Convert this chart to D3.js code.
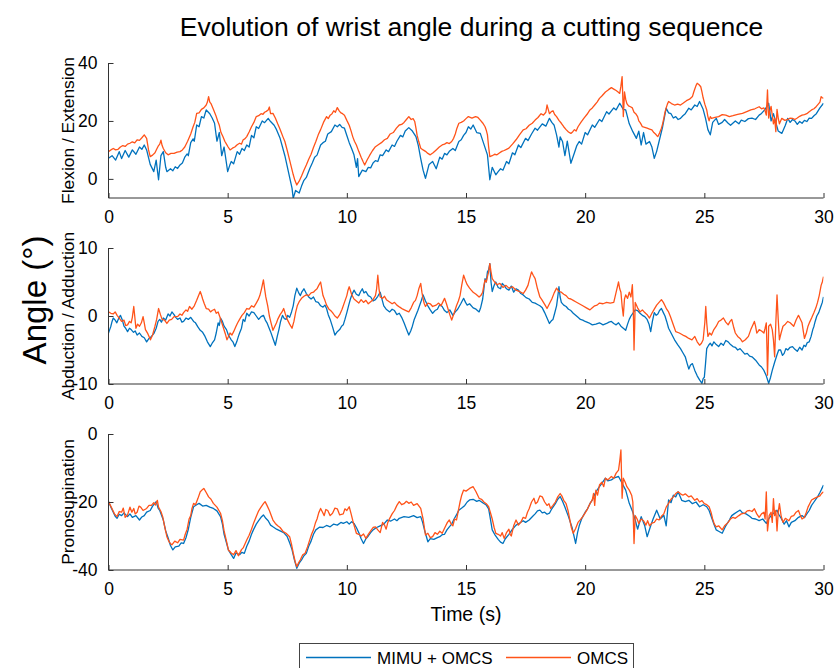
<!DOCTYPE html>
<html><head><meta charset="utf-8">
<script src="https://cdn.jsdelivr.net/npm/d3@7/dist/d3.min.js"></script>
<style>
html,body{margin:0;padding:0;background:#fff;}
svg text{font-family:"Liberation Sans",Arial,Helvetica,sans-serif;fill:#000;}
</style></head>
<body><svg id="chart" width="836" height="668"></svg>
<script>
const titleText = "Evolution of wrist angle during a cutting sequence";
const seriesNames = ["MIMU + OMCS", "OMCS"];
const panelLabels = ["Flexion / Extension", "Abduction / Adduction", "Pronosupination"];
const timeTicks = [0, 5, 10, 15, 20, 25, 30];
const flexTicks = [0, 20, 40];
const abdTicks = [-10, 0, 10];
const pronoTicks = [-40, -20, 0];

const flexMimu = [[0,7.1],[0.15,8.0],[0.3,6.5],[0.45,9.4],[0.55,7.0],[0.7,9.8],[0.85,7.5],[1.0,10.0],[1.15,8.5],[1.3,11.0],[1.4,10.2],[1.5,11.7],[1.6,10.0],[1.75,5.0],[1.9,2.5],[2.0,6.5],[2.1,-0.3],[2.2,8.0],[2.3,9.4],[2.4,4.0],[2.45,2.5],[2.6,3.5],[2.7,2.8],[2.8,4.2],[2.9,3.6],[3.0,4.8],[3.1,5.5],[3.2,7.5],[3.3,8.6],[3.35,8.0],[3.45,12.5],[3.55,13.8],[3.6,13.0],[3.7,18.6],[3.8,18.0],[3.9,21.5],[4.0,21.0],[4.1,23.8],[4.25,22.5],[4.35,21.0],[4.45,19.2],[4.55,13.0],[4.65,16.0],[4.75,8.0],[4.85,11.0],[5.0,2.5],[5.1,5.0],[5.15,6.0],[5.25,5.2],[5.4,9.4],[5.5,8.5],[5.6,10.5],[5.7,9.8],[5.8,11.7],[5.9,11.0],[6.0,15.0],[6.1,14.2],[6.2,18.0],[6.3,17.4],[6.45,20.0],[6.55,19.4],[6.7,20.9],[6.8,19.8],[6.95,18.5],[7.05,17.0],[7.2,14.0],[7.4,8.0],[7.6,0.5],[7.7,-3.2],[7.75,-6.7],[7.85,-4.0],[8.0,-4.9],[8.1,-2.5],[8.2,-0.5],[8.3,0.5],[8.45,3.7],[8.55,5.5],[8.65,7.5],[8.75,8.2],[8.9,11.7],[9.0,12.5],[9.1,13.0],[9.2,15.5],[9.35,16.3],[9.5,18.6],[9.6,18.0],[9.7,18.8],[9.8,17.8],[9.9,17.5],[10.0,15.0],[10.1,12.5],[10.2,10.5],[10.3,8.3],[10.4,4.0],[10.45,7.0],[10.5,0.8],[10.65,3.0],[10.8,2.5],[10.9,4.0],[11.0,3.8],[11.1,5.5],[11.2,6.3],[11.3,6.0],[11.4,8.3],[11.5,8.0],[11.65,10.0],[11.75,9.4],[11.9,11.7],[12.0,11.2],[12.1,13.0],[12.25,15.0],[12.35,14.5],[12.45,16.5],[12.6,17.7],[12.75,16.5],[12.9,14.6],[13.0,11.5],[13.1,7.0],[13.2,3.0],[13.3,0.2],[13.45,5.0],[13.6,6.0],[13.75,3.5],[13.9,7.5],[14.0,6.8],[14.1,8.8],[14.2,8.3],[14.3,9.5],[14.45,10.5],[14.55,9.8],[14.7,12.9],[14.8,13.5],[14.9,15.0],[15.0,16.0],[15.1,18.0],[15.2,17.2],[15.3,18.6],[15.45,16.0],[15.6,15.7],[15.75,12.0],[15.9,8.3],[16.0,-0.3],[16.1,4.0],[16.25,1.4],[16.35,2.5],[16.45,3.5],[16.55,3.0],[16.7,6.0],[16.8,5.2],[16.95,9.0],[17.05,8.3],[17.2,11.7],[17.3,10.8],[17.5,14.0],[17.6,13.2],[17.75,15.5],[17.9,17.5],[18.0,16.8],[18.2,19.0],[18.35,18.2],[18.5,20.9],[18.6,19.5],[18.7,18.5],[18.8,15.2],[18.9,11.0],[18.95,14.5],[19.05,12.9],[19.15,8.0],[19.25,13.0],[19.4,5.4],[19.55,9.0],[19.65,11.5],[19.75,12.9],[19.85,12.0],[20.0,16.0],[20.1,15.2],[20.3,18.6],[20.4,17.8],[20.6,20.5],[20.7,19.8],[20.9,23.2],[21.0,22.4],[21.2,24.5],[21.3,23.8],[21.45,26.1],[21.6,24.0],[21.7,23.8],[21.85,19.0],[22.0,16.3],[22.15,14.0],[22.25,16.5],[22.35,11.7],[22.45,16.0],[22.55,12.0],[22.7,12.9],[22.8,11.0],[22.9,7.1],[23.0,9.5],[23.1,12.9],[23.25,18.0],[23.4,24.4],[23.5,22.8],[23.6,22.5],[23.7,21.0],[23.8,21.5],[23.9,20.5],[24.0,20.9],[24.1,21.8],[24.2,22.5],[24.35,24.4],[24.45,23.8],[24.6,25.5],[24.7,25.0],[24.8,26.7],[24.95,24.0],[25.05,20.9],[25.15,17.0],[25.25,15.2],[25.35,19.5],[25.5,20.9],[25.6,18.8],[25.75,19.5],[25.85,20.5],[26.0,19.2],[26.1,18.5],[26.3,20.0],[26.45,19.0],[26.55,20.3],[26.7,19.8],[26.85,20.8],[27.0,21.0],[27.15,20.5],[27.3,22.0],[27.4,22.6],[27.55,24.0],[27.7,26.1],[27.8,20.0],[27.9,22.5],[28.0,19.5],[28.1,16.5],[28.25,15.7],[28.4,18.5],[28.5,20.9],[28.6,19.5],[28.7,20.5],[28.8,20.0],[28.9,18.8],[29.0,19.8],[29.1,19.2],[29.2,20.2],[29.3,19.8],[29.4,21.0],[29.5,20.9],[29.6,21.8],[29.7,22.5],[29.85,24.5],[30.0,26.1]];

const flexOmcs = [[0,9.4],[0.1,10.0],[0.2,10.5],[0.3,10.0],[0.4,10.2],[0.5,11.0],[0.6,11.5],[0.7,11.2],[0.8,12.0],[0.9,12.3],[1.0,12.8],[1.1,12.4],[1.2,13.5],[1.3,13.3],[1.4,14.2],[1.5,15.2],[1.6,14.0],[1.68,10.0],[1.75,7.7],[1.85,8.2],[1.95,9.0],[2.02,10.2],[2.1,11.5],[2.15,12.0],[2.2,13.4],[2.25,11.5],[2.3,10.5],[2.4,9.0],[2.5,8.3],[2.62,8.8],[2.75,8.8],[2.88,9.2],[3.0,9.4],[3.1,10.0],[3.2,11.0],[3.32,13.0],[3.45,15.5],[3.55,18.0],[3.62,19.5],[3.7,22.6],[3.8,22.8],[3.9,24.0],[4.0,24.5],[4.1,25.5],[4.15,26.5],[4.2,28.4],[4.25,26.5],[4.3,26.0],[4.4,24.0],[4.5,22.0],[4.58,20.0],[4.65,18.5],[4.72,16.0],[4.8,14.6],[4.88,13.0],[4.95,12.0],[5.02,11.0],[5.1,10.0],[5.2,10.6],[5.3,11.0],[5.4,11.8],[5.5,12.3],[5.58,12.0],[5.65,13.5],[5.72,13.8],[5.8,14.6],[5.9,16.2],[6.0,18.0],[6.1,19.5],[6.2,21.5],[6.3,21.8],[6.4,22.5],[6.48,22.3],[6.55,23.0],[6.62,23.3],[6.7,23.8],[6.75,24.8],[6.8,22.5],[6.9,22.6],[7.0,21.0],[7.1,19.0],[7.18,17.5],[7.25,16.0],[7.32,14.5],[7.4,12.9],[7.5,9.8],[7.6,6.5],[7.68,3.8],[7.75,1.5],[7.82,-0.5],[7.9,-2.1],[8.0,-0.8],[8.1,1.0],[8.2,3.0],[8.3,4.8],[8.4,6.8],[8.5,8.5],[8.6,10.8],[8.7,12.9],[8.8,15.2],[8.9,17.0],[9.02,19.5],[9.15,21.5],[9.22,20.8],[9.3,22.0],[9.38,22.5],[9.45,23.5],[9.52,23.0],[9.6,24.6],[9.68,23.5],[9.75,22.8],[9.82,22.5],[9.9,22.0],[10.0,20.2],[10.1,18.5],[10.18,16.5],[10.25,14.5],[10.32,13.0],[10.4,11.7],[10.5,9.5],[10.6,7.5],[10.68,6.0],[10.75,4.8],[10.85,6.5],[10.95,8.0],[11.08,9.8],[11.2,11.1],[11.32,11.8],[11.45,12.5],[11.58,13.5],[11.7,14.0],[11.82,15.5],[11.95,16.0],[12.08,17.5],[12.2,18.6],[12.3,18.8],[12.4,19.5],[12.5,20.5],[12.6,21.5],[12.7,20.5],[12.78,20.8],[12.85,19.8],[12.9,17.5],[12.95,15.0],[13.02,12.8],[13.1,10.6],[13.2,10.0],[13.3,9.5],[13.4,8.8],[13.5,8.3],[13.62,9.0],[13.75,10.0],[13.88,11.0],[14.0,11.7],[14.1,12.0],[14.2,12.5],[14.3,12.2],[14.4,12.9],[14.48,14.0],[14.55,15.5],[14.62,17.5],[14.7,19.2],[14.8,19.5],[14.9,20.0],[15.0,20.8],[15.1,21.5],[15.25,21.0],[15.4,21.5],[15.5,21.2],[15.6,20.3],[15.7,19.3],[15.8,18.0],[15.85,16.8],[15.9,15.2],[15.95,11.0],[16.0,7.7],[16.1,8.0],[16.2,8.5],[16.3,8.3],[16.4,8.9],[16.5,9.5],[16.6,9.8],[16.7,10.2],[16.8,10.6],[16.95,12.0],[17.1,13.5],[17.25,15.3],[17.4,16.9],[17.52,17.3],[17.65,18.5],[17.78,19.2],[17.9,20.3],[18.02,21.2],[18.15,22.5],[18.25,22.0],[18.35,23.0],[18.4,25.5],[18.45,24.0],[18.5,22.5],[18.58,23.2],[18.65,23.5],[18.72,22.2],[18.8,21.5],[18.9,20.2],[19.0,19.2],[19.1,18.0],[19.2,17.0],[19.3,16.2],[19.4,15.7],[19.48,16.3],[19.55,17.0],[19.62,16.5],[19.7,18.0],[19.82,19.5],[19.95,21.0],[20.08,22.3],[20.2,23.8],[20.3,24.5],[20.4,25.5],[20.5,26.5],[20.6,27.8],[20.72,28.8],[20.85,30.0],[20.98,30.8],[21.1,31.5],[21.2,31.0],[21.3,30.5],[21.38,30.0],[21.45,29.5],[21.5,32.0],[21.55,35.3],[21.58,28.0],[21.6,21.5],[21.63,26.0],[21.65,30.0],[21.7,27.5],[21.75,26.0],[21.82,25.2],[21.9,24.9],[21.98,24.5],[22.05,23.0],[22.12,22.5],[22.2,21.5],[22.25,20.0],[22.3,19.5],[22.35,18.8],[22.4,18.0],[22.5,17.8],[22.6,17.5],[22.7,17.2],[22.8,16.9],[22.88,16.0],[22.95,15.5],[23.0,15.0],[23.05,14.6],[23.12,15.8],[23.2,17.5],[23.25,19.0],[23.3,20.9],[23.35,23.0],[23.4,24.5],[23.45,25.8],[23.5,26.7],[23.62,26.0],[23.75,25.5],[23.88,25.8],[24.0,25.5],[24.12,26.2],[24.25,27.0],[24.38,27.5],[24.5,28.4],[24.55,29.8],[24.6,31.0],[24.65,32.2],[24.7,33.0],[24.78,32.5],[24.85,31.8],[24.9,30.0],[24.95,28.0],[25.02,25.8],[25.1,23.8],[25.15,21.5],[25.2,20.0],[25.25,21.5],[25.3,20.9],[25.45,21.2],[25.6,21.5],[25.75,22.2],[25.9,22.0],[26.05,21.5],[26.2,21.8],[26.4,22.3],[26.6,22.6],[26.78,23.2],[26.95,23.8],[27.12,24.2],[27.3,24.9],[27.4,24.2],[27.5,24.5],[27.55,23.5],[27.6,22.0],[27.65,30.7],[27.68,24.0],[27.7,21.0],[27.75,23.5],[27.8,25.0],[27.85,22.0],[27.9,19.0],[27.95,21.0],[28.0,16.3],[28.05,24.0],[28.1,21.0],[28.15,19.0],[28.2,20.0],[28.25,20.9],[28.38,20.2],[28.5,20.5],[28.6,21.0],[28.7,20.9],[28.8,20.5],[28.9,21.0],[29.0,21.6],[29.1,22.0],[29.2,22.2],[29.3,22.5],[29.4,23.2],[29.5,23.8],[29.6,24.2],[29.7,25.0],[29.78,25.8],[29.85,26.5],[29.9,28.4],[29.95,28.0],[30.0,27.8]];

const abdMimu = [[0,-2.5],[0.05,-2.0],[0.1,-1.5],[0.15,-0.8],[0.2,-0.3],[0.28,-0.6],[0.35,-1.0],[0.42,-0.4],[0.5,0.1],[0.58,-0.6],[0.65,-1.5],[0.72,-1.8],[0.8,-2.3],[0.88,-1.8],[0.95,-2.0],[1.05,-2.4],[1.12,-2.2],[1.2,-2.8],[1.3,-2.5],[1.4,-3.0],[1.5,-3.2],[1.6,-3.8],[1.7,-3.3],[1.8,-3.0],[1.9,-2.6],[2.0,-1.8],[2.08,-0.8],[2.15,-0.5],[2.22,-0.9],[2.3,-0.3],[2.4,-0.6],[2.5,0.3],[2.58,0.0],[2.66,0.6],[2.75,0.2],[2.82,-0.2],[2.9,-0.5],[3.0,-0.3],[3.08,-0.9],[3.15,-0.8],[3.25,-0.3],[3.35,-0.5],[3.45,-0.2],[3.57,-0.8],[3.65,-1.0],[3.75,-1.6],[3.85,-2.1],[3.95,-2.4],[4.05,-3.0],[4.15,-3.8],[4.27,-4.5],[4.35,-4.0],[4.45,-3.5],[4.52,-2.5],[4.6,-1.0],[4.65,-1.4],[4.7,-0.3],[4.78,-0.8],[4.85,-1.5],[4.95,-2.0],[5.03,-2.8],[5.1,-3.2],[5.15,-3.5],[5.22,-3.8],[5.3,-4.5],[5.38,-3.8],[5.45,-3.0],[5.5,-2.5],[5.58,-1.8],[5.65,-0.5],[5.72,-0.8],[5.8,0.4],[5.9,0.0],[6.0,0.6],[6.1,0.5],[6.2,0.0],[6.3,-0.5],[6.4,-0.1],[6.5,0.1],[6.58,-0.6],[6.65,-1.0],[6.72,-1.6],[6.8,-2.3],[6.9,-3.3],[7.0,-4.3],[7.08,-3.0],[7.15,-2.0],[7.22,-0.8],[7.3,0.1],[7.38,-0.4],[7.45,-0.5],[7.52,0.1],[7.6,-0.2],[7.68,0.6],[7.75,1.5],[7.82,3.0],[7.9,4.1],[7.98,3.4],[8.05,3.0],[8.12,3.6],[8.2,4.0],[8.3,3.3],[8.4,2.8],[8.5,2.5],[8.6,2.8],[8.7,2.1],[8.8,2.0],[8.9,1.5],[9.0,1.3],[9.08,1.6],[9.15,1.1],[9.22,0.2],[9.3,-0.5],[9.4,-1.6],[9.5,-2.8],[9.6,-2.3],[9.7,-2.0],[9.78,-1.5],[9.85,-1.3],[9.92,-0.5],[10.0,0.5],[10.08,1.6],[10.15,2.5],[10.22,3.2],[10.3,3.8],[10.4,3.2],[10.5,3.0],[10.58,3.6],[10.65,4.0],[10.72,3.4],[10.8,3.6],[10.9,3.0],[11.0,2.8],[11.1,2.2],[11.2,2.4],[11.3,2.9],[11.4,3.5],[11.48,2.4],[11.55,1.5],[11.65,1.0],[11.8,0.6],[11.9,1.0],[12.0,0.8],[12.1,0.2],[12.2,0.4],[12.3,-0.2],[12.4,-1.0],[12.5,-1.9],[12.6,-2.8],[12.68,-2.2],[12.75,-1.5],[12.82,-0.6],[12.9,0.1],[12.98,0.8],[13.05,1.5],[13.12,2.2],[13.2,3.1],[13.3,2.2],[13.4,1.5],[13.5,0.9],[13.6,0.4],[13.7,0.8],[13.8,1.0],[13.9,1.7],[14.0,1.4],[14.1,0.8],[14.2,0.5],[14.32,0.9],[14.45,0.1],[14.55,0.6],[14.65,1.0],[14.78,1.8],[14.9,2.6],[14.98,2.0],[15.05,1.6],[15.15,1.8],[15.3,1.2],[15.42,1.0],[15.55,0.6],[15.62,1.3],[15.7,2.5],[15.75,4.0],[15.8,5.5],[15.85,5.0],[15.9,6.5],[15.95,6.8],[16.0,7.7],[16.05,5.0],[16.1,3.6],[16.18,4.5],[16.25,5.0],[16.35,4.2],[16.45,4.0],[16.52,4.8],[16.6,4.5],[16.7,4.0],[16.8,3.8],[16.9,4.4],[17.0,3.5],[17.1,4.0],[17.2,3.8],[17.3,3.3],[17.4,3.1],[17.52,2.7],[17.65,2.5],[17.78,2.0],[17.9,1.9],[18.0,1.7],[18.1,1.5],[18.2,1.2],[18.3,0.5],[18.4,-0.3],[18.5,-1.1],[18.58,-0.7],[18.65,-0.5],[18.72,0.4],[18.8,1.5],[18.85,2.8],[18.9,4.3],[18.95,2.8],[19.0,2.0],[19.1,1.6],[19.2,1.4],[19.3,1.0],[19.4,0.8],[19.5,0.4],[19.6,0.1],[19.7,-0.2],[19.8,-0.5],[19.9,-0.6],[20.0,-0.8],[20.15,-1.0],[20.3,-1.3],[20.45,-1.2],[20.6,-1.0],[20.75,-1.3],[20.9,-1.1],[21.0,-0.9],[21.1,-0.8],[21.2,-1.1],[21.3,-1.3],[21.4,-1.0],[21.5,-1.5],[21.6,-1.8],[21.7,-2.1],[21.78,-1.2],[21.85,-0.5],[21.92,0.0],[22.0,0.4],[22.1,0.9],[22.2,0.8],[22.3,0.4],[22.4,0.1],[22.5,-0.1],[22.6,-0.5],[22.68,-1.2],[22.75,-2.3],[22.82,-0.8],[22.9,0.5],[22.98,0.1],[23.05,0.3],[23.12,0.8],[23.2,1.1],[23.28,0.5],[23.35,0.0],[23.42,-0.8],[23.5,-1.8],[23.62,-2.6],[23.75,-3.5],[23.88,-4.2],[24.0,-4.8],[24.1,-5.4],[24.2,-6.0],[24.28,-7.0],[24.35,-7.8],[24.42,-7.2],[24.5,-7.0],[24.6,-8.0],[24.7,-8.8],[24.8,-9.4],[24.9,-9.9],[24.95,-9.2],[25.0,-9.0],[25.05,-7.0],[25.1,-4.8],[25.18,-4.3],[25.25,-4.0],[25.32,-4.4],[25.4,-3.8],[25.5,-4.2],[25.6,-4.5],[25.7,-4.0],[25.8,-4.3],[25.9,-3.6],[26.0,-3.8],[26.1,-4.2],[26.2,-4.5],[26.3,-4.6],[26.4,-5.0],[26.5,-4.8],[26.6,-5.2],[26.7,-5.6],[26.8,-5.5],[26.9,-5.9],[27.0,-6.0],[27.15,-6.5],[27.3,-7.2],[27.4,-7.5],[27.5,-8.0],[27.6,-8.8],[27.7,-9.9],[27.78,-9.0],[27.85,-8.0],[27.95,-6.8],[28.05,-5.7],[28.12,-5.0],[28.2,-5.0],[28.28,-5.8],[28.35,-5.5],[28.42,-4.8],[28.5,-5.0],[28.6,-4.6],[28.7,-4.5],[28.8,-4.9],[28.9,-5.2],[29.0,-4.6],[29.1,-5.0],[29.18,-4.3],[29.25,-4.5],[29.32,-3.9],[29.4,-3.8],[29.48,-3.0],[29.55,-2.0],[29.6,-1.5],[29.65,-0.8],[29.72,0.0],[29.8,0.5],[29.9,1.5],[29.95,2.0],[30.0,2.8]];

const abdOmcs = [[0,0.6],[0.1,0.4],[0.2,0.3],[0.28,0.6],[0.36,0.1],[0.45,-0.3],[0.55,-0.8],[0.65,-0.6],[0.72,-1.4],[0.8,-1.3],[0.88,-0.8],[0.95,-1.0],[1.0,-0.2],[1.06,1.4],[1.1,0.0],[1.15,-1.8],[1.22,-1.2],[1.3,-1.5],[1.38,-1.0],[1.45,-0.1],[1.5,-1.0],[1.55,-2.0],[1.65,-2.6],[1.76,-3.5],[1.85,-2.8],[1.95,-1.5],[2.02,-0.5],[2.1,1.1],[2.18,0.2],[2.25,-0.5],[2.35,-0.6],[2.45,-1.1],[2.55,-0.6],[2.65,-0.5],[2.75,-0.1],[2.9,-0.1],[3.0,0.3],[3.08,0.1],[3.15,0.5],[3.25,0.9],[3.32,0.7],[3.4,1.4],[3.5,1.0],[3.6,1.5],[3.7,2.3],[3.78,3.0],[3.85,3.6],[3.9,3.1],[3.95,2.5],[4.02,1.8],[4.1,1.1],[4.2,1.0],[4.28,0.6],[4.35,0.8],[4.45,1.0],[4.52,0.4],[4.6,0.6],[4.7,-0.4],[4.8,-1.5],[4.9,-2.6],[4.97,-3.5],[5.05,-2.9],[5.1,-2.5],[5.18,-2.8],[5.25,-2.3],[5.35,-1.5],[5.42,-1.0],[5.5,-0.5],[5.6,0.1],[5.7,0.5],[5.8,1.1],[5.9,1.0],[6.0,1.5],[6.1,1.3],[6.2,1.9],[6.28,2.4],[6.35,3.0],[6.42,4.0],[6.5,5.3],[6.55,4.0],[6.6,2.8],[6.68,1.5],[6.75,0.0],[6.82,-1.0],[6.9,-2.1],[6.98,-1.5],[7.05,-1.0],[7.1,-0.5],[7.2,0.2],[7.28,0.6],[7.35,1.1],[7.42,0.3],[7.5,-0.5],[7.6,-1.2],[7.7,-1.8],[7.78,-0.8],[7.85,0.5],[7.92,1.5],[8.0,2.1],[8.1,2.6],[8.2,2.9],[8.3,3.1],[8.4,3.0],[8.5,3.4],[8.6,3.5],[8.68,3.8],[8.75,4.0],[8.82,4.5],[8.9,5.0],[8.95,4.0],[9.0,3.0],[9.08,2.3],[9.15,1.6],[9.25,1.0],[9.32,0.8],[9.4,0.5],[9.5,0.0],[9.6,-0.3],[9.7,0.2],[9.8,1.0],[9.9,2.0],[10.0,3.0],[10.05,3.8],[10.1,4.3],[10.2,3.2],[10.3,2.5],[10.4,2.2],[10.5,1.9],[10.6,2.4],[10.7,2.0],[10.8,2.3],[10.9,1.8],[11.0,2.1],[11.1,2.4],[11.2,3.0],[11.25,4.0],[11.3,6.0],[11.35,4.0],[11.4,2.8],[11.5,2.6],[11.58,2.9],[11.66,2.4],[11.78,2.1],[11.9,1.8],[12.0,2.0],[12.1,1.6],[12.22,1.3],[12.35,1.0],[12.48,0.8],[12.6,0.6],[12.7,1.2],[12.8,2.0],[12.88,2.3],[12.95,3.0],[13.02,4.0],[13.1,4.8],[13.15,3.5],[13.2,2.5],[13.25,1.8],[13.3,1.4],[13.4,1.9],[13.5,1.8],[13.6,1.4],[13.75,1.6],[13.85,1.9],[13.95,1.5],[14.02,2.0],[14.1,2.6],[14.18,1.8],[14.25,1.0],[14.32,0.2],[14.4,-0.6],[14.5,0.4],[14.6,1.5],[14.68,2.2],[14.75,3.0],[14.82,4.5],[14.9,6.0],[14.98,5.2],[15.05,4.6],[15.15,4.1],[15.22,3.8],[15.3,3.5],[15.42,3.2],[15.55,2.8],[15.62,3.0],[15.7,3.5],[15.75,4.5],[15.8,5.3],[15.85,5.0],[15.9,5.8],[15.95,6.5],[16.0,7.7],[16.05,6.5],[16.1,5.5],[16.2,5.0],[16.3,4.6],[16.42,4.8],[16.55,4.2],[16.68,4.5],[16.8,4.1],[16.95,4.3],[17.1,3.8],[17.25,3.6],[17.4,3.3],[17.5,3.8],[17.6,4.5],[17.68,5.6],[17.75,6.5],[17.82,6.0],[17.9,5.5],[18.0,4.0],[18.1,2.8],[18.18,2.4],[18.25,2.0],[18.32,1.6],[18.4,1.1],[18.5,1.8],[18.6,2.5],[18.7,3.4],[18.8,4.1],[18.9,3.6],[19.0,3.5],[19.1,3.2],[19.2,3.0],[19.3,2.6],[19.4,2.5],[19.5,2.3],[19.6,2.1],[19.75,1.8],[19.9,1.5],[20.05,1.2],[20.2,0.9],[20.3,1.2],[20.4,1.5],[20.5,1.6],[20.6,1.9],[20.75,1.8],[20.9,2.0],[21.05,1.9],[21.2,2.0],[21.3,3.5],[21.4,5.0],[21.45,4.0],[21.5,3.5],[21.55,1.5],[21.6,0.0],[21.65,2.5],[21.7,3.1],[21.78,2.6],[21.85,3.5],[21.92,2.8],[21.98,4.6],[22.02,1.0],[22.05,-5.0],[22.08,-1.0],[22.1,2.0],[22.2,1.2],[22.3,0.6],[22.4,0.9],[22.5,0.5],[22.6,0.2],[22.7,-0.3],[22.8,0.4],[22.9,1.0],[23.0,1.6],[23.1,2.0],[23.2,2.4],[23.28,2.0],[23.35,1.5],[23.42,1.0],[23.5,0.6],[23.58,-0.1],[23.65,-0.8],[23.72,-1.5],[23.8,-2.3],[23.95,-2.5],[24.1,-2.8],[24.22,-3.0],[24.35,-3.3],[24.48,-3.5],[24.6,-3.0],[24.7,-3.8],[24.8,-4.3],[24.88,-4.0],[24.95,-3.5],[25.02,-1.0],[25.06,1.4],[25.1,-1.0],[25.15,-3.0],[25.22,-2.5],[25.3,-2.8],[25.4,-2.0],[25.5,-1.5],[25.6,-0.8],[25.7,-0.6],[25.8,-0.3],[25.9,-0.9],[26.0,-1.3],[26.08,-0.8],[26.15,-0.5],[26.22,-1.5],[26.3,-2.5],[26.4,-3.0],[26.5,-3.3],[26.6,-3.8],[26.72,-3.5],[26.85,-3.0],[26.95,-2.0],[27.05,-1.2],[27.1,-0.8],[27.15,-1.5],[27.2,-2.5],[27.25,-2.3],[27.3,-2.0],[27.4,-2.2],[27.5,-2.5],[27.55,-1.8],[27.6,-1.0],[27.63,-5.0],[27.65,-8.7],[27.68,-5.0],[27.7,-1.5],[27.78,-1.2],[27.85,-2.0],[27.9,-3.5],[27.95,-6.0],[28.0,-1.0],[28.05,3.1],[28.1,-0.5],[28.15,-3.5],[28.22,-2.5],[28.3,-1.5],[28.4,-1.2],[28.5,-0.8],[28.6,-1.0],[28.75,-1.5],[28.85,-0.6],[28.95,0.1],[29.02,-0.4],[29.1,-1.0],[29.15,-2.2],[29.2,-3.3],[29.28,-2.5],[29.35,-1.5],[29.42,-0.9],[29.5,-0.3],[29.6,0.5],[29.68,1.2],[29.75,2.0],[29.82,3.0],[29.9,4.5],[29.95,5.0],[30.0,5.8]];

const pronoMimu = [[0,-19.9],[0.1,-21.5],[0.2,-23.0],[0.28,-24.2],[0.36,-24.8],[0.45,-23.6],[0.55,-24.0],[0.65,-23.2],[0.8,-24.3],[0.9,-23.5],[1.0,-24.5],[1.15,-24.0],[1.3,-25.3],[1.4,-24.4],[1.5,-24.0],[1.6,-23.0],[1.75,-22.5],[1.85,-21.2],[2.0,-19.9],[2.08,-21.8],[2.15,-22.5],[2.3,-25.3],[2.4,-28.5],[2.5,-30.5],[2.6,-32.8],[2.7,-34.1],[2.8,-33.2],[2.95,-33.0],[3.05,-32.0],[3.15,-32.2],[3.25,-30.5],[3.35,-28.0],[3.45,-24.5],[3.57,-21.4],[3.7,-20.8],[3.8,-20.4],[3.95,-21.2],[4.1,-21.0],[4.25,-21.5],[4.4,-21.9],[4.55,-22.6],[4.7,-24.3],[4.78,-26.5],[4.85,-29.5],[4.95,-32.0],[5.03,-34.1],[5.15,-35.5],[5.25,-36.6],[5.35,-35.0],[5.5,-35.5],[5.6,-34.8],[5.7,-35.1],[5.8,-33.0],[5.9,-31.5],[6.0,-29.5],[6.08,-28.2],[6.2,-26.5],[6.3,-25.5],[6.4,-24.5],[6.5,-23.8],[6.6,-24.8],[6.7,-25.5],[6.8,-26.8],[6.9,-27.3],[7.05,-28.0],[7.2,-28.5],[7.35,-29.0],[7.5,-30.2],[7.6,-32.0],[7.7,-34.0],[7.8,-37.0],[7.9,-39.5],[8.0,-38.0],[8.1,-37.0],[8.2,-35.8],[8.3,-35.1],[8.4,-33.0],[8.5,-31.5],[8.6,-29.5],[8.7,-28.2],[8.85,-27.4],[9.0,-27.5],[9.15,-26.9],[9.3,-27.3],[9.45,-26.5],[9.6,-26.8],[9.75,-26.0],[9.85,-26.3],[10.0,-25.8],[10.1,-26.5],[10.2,-25.8],[10.3,-26.3],[10.4,-27.5],[10.5,-29.0],[10.6,-30.8],[10.7,-32.2],[10.8,-30.8],[10.9,-30.0],[11.0,-29.0],[11.1,-28.2],[11.25,-27.5],[11.4,-27.0],[11.55,-26.5],[11.7,-25.3],[11.85,-25.6],[12.0,-25.0],[12.1,-25.5],[12.2,-24.8],[12.4,-24.3],[12.6,-24.5],[12.8,-24.0],[12.95,-24.6],[13.1,-24.3],[13.18,-26.0],[13.25,-28.0],[13.4,-31.7],[13.5,-30.8],[13.65,-31.0],[13.8,-30.5],[13.9,-30.2],[14.0,-29.6],[14.1,-29.5],[14.2,-28.2],[14.3,-27.3],[14.4,-26.5],[14.5,-25.0],[14.6,-23.8],[14.7,-22.4],[14.85,-21.6],[14.95,-21.0],[15.05,-20.0],[15.15,-19.4],[15.3,-19.2],[15.45,-19.8],[15.55,-19.5],[15.7,-20.2],[15.85,-20.9],[15.95,-22.0],[16.0,-24.0],[16.1,-28.2],[16.2,-29.5],[16.35,-31.0],[16.45,-31.8],[16.55,-32.2],[16.65,-30.8],[16.8,-29.5],[16.95,-28.0],[17.1,-26.8],[17.25,-26.2],[17.4,-25.5],[17.5,-26.0],[17.65,-25.3],[17.8,-24.2],[17.9,-23.5],[18.0,-22.6],[18.1,-22.4],[18.2,-23.2],[18.3,-23.0],[18.4,-23.6],[18.5,-23.3],[18.6,-22.0],[18.75,-20.5],[18.85,-19.2],[18.95,-18.4],[19.05,-19.8],[19.15,-21.5],[19.3,-24.3],[19.45,-27.5],[19.6,-32.2],[19.68,-29.0],[19.75,-27.0],[19.85,-25.0],[19.9,-24.3],[20.0,-23.0],[20.1,-22.0],[20.2,-20.5],[20.3,-19.4],[20.45,-17.0],[20.6,-15.5],[20.7,-14.5],[20.85,-13.0],[20.95,-13.8],[21.1,-13.5],[21.25,-12.8],[21.4,-12.5],[21.55,-14.5],[21.7,-16.5],[21.85,-20.4],[22.0,-23.0],[22.1,-25.3],[22.2,-28.0],[22.35,-24.3],[22.5,-27.0],[22.6,-30.2],[22.75,-27.0],[22.85,-25.0],[23.0,-22.4],[23.15,-25.0],[23.3,-23.9],[23.4,-27.0],[23.5,-19.4],[23.6,-20.2],[23.7,-18.0],[23.8,-18.5],[23.9,-17.0],[24.05,-19.5],[24.2,-19.9],[24.35,-19.5],[24.5,-20.5],[24.65,-20.0],[24.8,-21.4],[24.95,-20.8],[25.1,-21.4],[25.2,-22.5],[25.3,-24.5],[25.4,-26.5],[25.5,-28.2],[25.6,-28.6],[25.75,-29.2],[25.9,-27.0],[26.05,-25.3],[26.15,-24.0],[26.25,-23.5],[26.4,-22.8],[26.5,-22.4],[26.6,-23.2],[26.75,-23.5],[26.9,-24.2],[27.0,-24.8],[27.15,-25.0],[27.3,-25.5],[27.45,-25.0],[27.6,-26.3],[27.7,-25.0],[27.8,-24.0],[27.95,-23.0],[28.05,-22.4],[28.12,-23.6],[28.2,-24.5],[28.35,-26.5],[28.45,-25.5],[28.55,-27.3],[28.65,-26.0],[28.8,-25.5],[28.95,-24.5],[29.1,-24.0],[29.2,-24.6],[29.3,-23.5],[29.4,-22.5],[29.5,-21.0],[29.6,-20.0],[29.75,-18.5],[29.85,-17.2],[29.9,-16.5],[30.0,-15.0]];

const pronoOmcs = [[0,-19.9],[0.08,-21.0],[0.15,-22.0],[0.25,-23.5],[0.36,-24.3],[0.45,-22.8],[0.55,-23.0],[0.62,-21.8],[0.7,-24.5],[0.8,-23.8],[0.9,-21.5],[0.98,-23.0],[1.06,-21.9],[1.12,-23.5],[1.2,-23.0],[1.28,-21.2],[1.35,-21.5],[1.45,-22.5],[1.6,-21.9],[1.7,-21.0],[1.8,-21.0],[1.9,-20.2],[1.97,-20.9],[2.05,-19.5],[2.1,-21.5],[2.2,-22.8],[2.28,-24.5],[2.35,-27.0],[2.45,-30.2],[2.55,-31.8],[2.66,-32.6],[2.78,-31.5],[2.9,-32.0],[3.0,-31.0],[3.15,-31.2],[3.22,-29.5],[3.3,-28.0],[3.38,-25.0],[3.45,-24.0],[3.5,-22.0],[3.57,-20.4],[3.65,-20.8],[3.75,-19.0],[3.85,-17.0],[3.92,-16.5],[4.0,-16.0],[4.1,-17.2],[4.2,-18.5],[4.3,-19.2],[4.4,-20.4],[4.55,-21.5],[4.7,-23.3],[4.78,-25.5],[4.85,-28.5],[4.95,-31.5],[5.03,-34.1],[5.15,-35.0],[5.25,-35.5],[5.35,-34.3],[5.45,-35.8],[5.5,-35.1],[5.58,-34.0],[5.65,-33.5],[5.8,-31.2],[5.9,-29.8],[6.0,-28.0],[6.1,-26.0],[6.2,-24.3],[6.3,-22.6],[6.4,-21.5],[6.5,-20.5],[6.57,-19.9],[6.65,-21.0],[6.75,-22.5],[6.9,-25.3],[7.0,-26.3],[7.1,-27.0],[7.2,-27.5],[7.33,-28.7],[7.45,-29.2],[7.6,-30.2],[7.68,-32.5],[7.75,-35.0],[7.83,-37.5],[7.9,-39.0],[7.98,-37.8],[8.05,-37.0],[8.15,-35.5],[8.25,-35.1],[8.35,-33.2],[8.45,-31.0],[8.52,-29.5],[8.6,-28.2],[8.68,-26.2],[8.75,-25.0],[8.82,-23.2],[8.9,-21.9],[8.98,-23.0],[9.05,-24.0],[9.12,-22.2],[9.2,-22.5],[9.3,-24.0],[9.4,-23.3],[9.5,-21.8],[9.6,-22.0],[9.7,-23.8],[9.85,-23.5],[9.92,-22.0],[10.0,-22.5],[10.1,-21.4],[10.18,-23.5],[10.25,-25.5],[10.4,-29.2],[10.5,-29.5],[10.6,-30.0],[10.7,-29.4],[10.8,-30.7],[10.9,-29.5],[11.0,-28.5],[11.1,-27.5],[11.2,-27.3],[11.3,-28.2],[11.4,-29.0],[11.5,-26.0],[11.58,-26.8],[11.65,-28.0],[11.72,-26.0],[11.8,-24.8],[11.9,-23.5],[12.0,-22.5],[12.1,-21.0],[12.2,-19.9],[12.3,-20.8],[12.4,-20.5],[12.5,-19.8],[12.6,-20.4],[12.7,-20.0],[12.8,-21.0],[12.95,-20.5],[13.1,-21.9],[13.2,-25.0],[13.3,-29.7],[13.4,-29.2],[13.5,-30.5],[13.6,-30.2],[13.7,-29.0],[13.8,-29.5],[13.9,-28.6],[14.0,-29.2],[14.08,-28.0],[14.15,-27.0],[14.22,-26.0],[14.3,-25.3],[14.38,-26.5],[14.45,-27.0],[14.52,-25.0],[14.6,-25.3],[14.68,-22.5],[14.75,-20.0],[14.82,-18.0],[14.9,-16.5],[15.0,-16.8],[15.15,-16.0],[15.3,-15.5],[15.42,-17.0],[15.55,-18.9],[15.65,-19.2],[15.75,-20.0],[15.85,-20.5],[15.95,-21.4],[16.02,-23.0],[16.1,-25.0],[16.18,-27.5],[16.25,-29.2],[16.35,-29.5],[16.45,-30.0],[16.52,-29.0],[16.6,-30.7],[16.7,-29.0],[16.8,-28.0],[16.85,-29.5],[16.9,-30.0],[17.0,-27.0],[17.1,-25.3],[17.2,-26.8],[17.3,-26.0],[17.4,-24.5],[17.5,-24.8],[17.58,-23.0],[17.65,-22.0],[17.75,-20.0],[17.85,-18.9],[17.92,-20.5],[18.0,-20.0],[18.1,-18.2],[18.2,-18.5],[18.3,-20.0],[18.4,-21.0],[18.48,-20.5],[18.55,-21.9],[18.65,-21.0],[18.75,-20.0],[18.85,-18.5],[18.95,-17.5],[19.02,-18.2],[19.1,-19.5],[19.2,-20.5],[19.28,-22.5],[19.35,-25.0],[19.42,-27.5],[19.5,-29.2],[19.6,-27.8],[19.7,-26.0],[19.8,-25.2],[19.9,-24.3],[20.0,-23.2],[20.1,-22.0],[20.2,-20.5],[20.3,-19.4],[20.35,-17.5],[20.4,-21.0],[20.45,-16.5],[20.52,-18.0],[20.6,-15.0],[20.7,-14.2],[20.78,-15.5],[20.85,-13.0],[20.95,-13.5],[21.1,-12.5],[21.2,-13.0],[21.3,-11.5],[21.4,-10.6],[21.45,-8.0],[21.5,-4.7],[21.55,-18.9],[21.6,-13.0],[21.68,-14.2],[21.75,-15.5],[21.85,-16.5],[21.95,-18.0],[22.0,-20.0],[22.05,-32.2],[22.1,-24.0],[22.18,-25.0],[22.25,-26.3],[22.35,-25.0],[22.45,-25.5],[22.55,-26.8],[22.62,-25.5],[22.7,-27.0],[22.8,-26.2],[22.9,-26.0],[23.0,-25.0],[23.1,-25.3],[23.2,-24.2],[23.3,-23.5],[23.4,-21.5],[23.5,-20.4],[23.6,-19.2],[23.7,-18.5],[23.8,-17.5],[23.9,-17.0],[24.0,-17.6],[24.1,-18.0],[24.2,-17.6],[24.35,-18.5],[24.45,-18.2],[24.6,-19.5],[24.7,-19.0],[24.8,-20.0],[24.9,-19.6],[25.0,-20.5],[25.1,-20.8],[25.2,-21.4],[25.28,-23.0],[25.35,-25.0],[25.42,-26.5],[25.5,-27.3],[25.6,-27.0],[25.75,-28.2],[25.85,-27.0],[26.0,-26.0],[26.1,-25.0],[26.2,-24.5],[26.3,-24.8],[26.45,-24.0],[26.55,-23.5],[26.7,-23.3],[26.8,-22.6],[26.9,-22.5],[27.0,-22.8],[27.1,-22.0],[27.2,-23.5],[27.3,-24.5],[27.4,-23.5],[27.5,-23.0],[27.55,-25.0],[27.6,-17.0],[27.65,-28.5],[27.72,-24.0],[27.8,-23.0],[27.85,-26.0],[27.9,-19.0],[27.95,-24.0],[28.0,-22.5],[28.05,-28.5],[28.1,-23.0],[28.15,-20.5],[28.22,-24.0],[28.3,-26.0],[28.4,-24.8],[28.55,-25.5],[28.65,-24.2],[28.75,-24.0],[28.85,-23.0],[28.95,-22.5],[29.02,-23.8],[29.1,-25.0],[29.2,-24.5],[29.28,-23.0],[29.35,-21.5],[29.42,-20.5],[29.5,-19.4],[29.6,-19.0],[29.75,-18.5],[29.85,-18.2],[29.92,-17.5],[30.0,-17.0]];

const colors = ["#0072BD", "#FF5319"];
const axisColor = "#333";
const FONT = '"Liberation Sans",Arial,Helvetica,sans-serif';

const svg = d3.select("#chart");
const X0 = 108.5, X1 = 823.5;
const x = d3.scaleLinear().domain([0, 30]).range([X0, X1]);

const panels = [
  {label: panelLabels[0], ticks: flexTicks, domain: [-6.6, 40], top: 63, bottom: 198, data: [flexMimu, flexOmcs]},
  {label: panelLabels[1], ticks: abdTicks, domain: [-10, 10], top: 248, bottom: 384, data: [abdMimu, abdOmcs]},
  {label: panelLabels[2], ticks: pronoTicks, domain: [-40, 0], top: 434, bottom: 570, data: [pronoMimu, pronoOmcs]}
];

svg.append("text").attr("x", 471.5).attr("y", 36).attr("text-anchor", "middle")
  .style("font-size", "26.5px").text(titleText);

svg.append("text").attr("transform", "translate(46,300) rotate(-90)").attr("text-anchor", "middle")
  .style("font-size", "33px").text("Angle (°)");

panels.forEach((p, i) => {
  const y = d3.scaleLinear().domain(p.domain).range([p.bottom, p.top]);
  const g = svg.append("g");
  const clipId = "clip" + i;
  svg.append("clipPath").attr("id", clipId).append("rect")
    .attr("x", X0).attr("y", p.top).attr("width", X1 - X0).attr("height", p.bottom - p.top);
  const line = d3.line().x(d => x(d[0])).y(d => y(d[1]));
  const lg = g.append("g").attr("clip-path", `url(#${clipId})`);
  p.data.forEach((s, k) => {
    lg.append("path").datum(s).attr("d", line).attr("fill", "none")
      .attr("stroke", colors[k]).attr("stroke-width", 1.3).attr("stroke-linejoin", "round");
  });
  const xa = d3.axisBottom(x).tickValues(timeTicks).tickSizeInner(-5).tickSizeOuter(0).tickPadding(13).tickFormat(d => String(d));
  const gx = g.append("g").attr("transform", `translate(0,${p.bottom})`).call(xa);
  gx.select(".domain").attr("stroke", axisColor).attr("d", `M${X0},0H${X1}`);
  gx.selectAll(".tick line").attr("stroke", axisColor);
  gx.selectAll(".tick text").style("font-size", "17.5px").style("font-family", FONT).attr("fill", "#1a1a1a");
  const ya = d3.axisLeft(y).tickValues(p.ticks).tickSizeInner(-5).tickSizeOuter(0).tickPadding(11).tickFormat(d => String(d));
  const gy = g.append("g").attr("transform", `translate(${X0},0)`).call(ya);
  gy.select(".domain").attr("stroke", axisColor).attr("d", `M0,${p.top}V${p.bottom}`);
  gy.selectAll(".tick line").attr("stroke", axisColor);
  gy.selectAll(".tick text").style("font-size", "17.5px").style("font-family", FONT).attr("fill", "#1a1a1a");
  g.append("text").attr("transform", `translate(74,${(p.top + p.bottom) / 2}) rotate(-90)`)
    .attr("text-anchor", "middle").style("font-size", "17.4px").text(p.label);
});

svg.append("text").attr("x", 466).attr("y", 621).attr("text-anchor", "middle")
  .style("font-size", "19.5px").text("Time (s)");

const lgd = svg.append("g");
lgd.append("rect").attr("x", 299.5).attr("y", 643.5).attr("width", 334).attr("height", 40)
  .attr("fill", "#fff").attr("stroke", "#444").attr("stroke-width", 1);
const legendItems = [{x: 306, name: seriesNames[0]}, {x: 506, name: seriesNames[1]}];
legendItems.forEach((it, k) => {
  lgd.append("line").attr("x1", it.x).attr("x2", it.x + 65).attr("y1", 657.5).attr("y2", 657.5)
    .attr("stroke", colors[k]).attr("stroke-width", 1.3);
  lgd.append("text").attr("x", it.x + 71).attr("y", 664).style("font-size", "17px").text(it.name);
});
</script>
</body></html>
